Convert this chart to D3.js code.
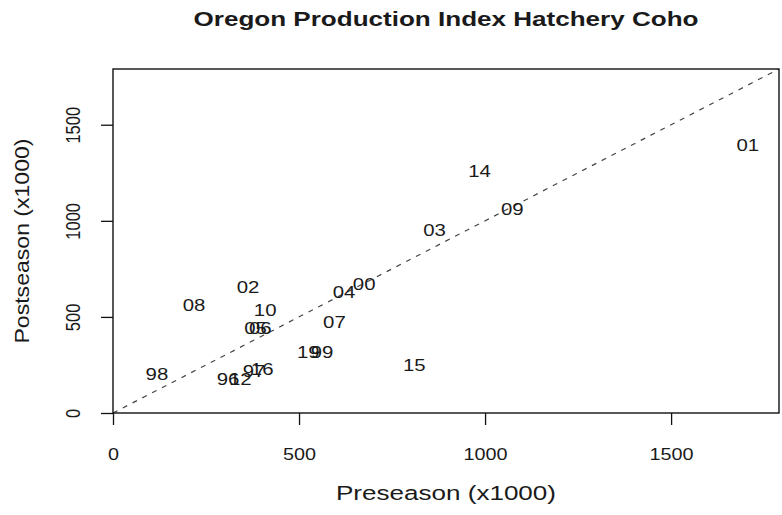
<!DOCTYPE html>
<html>
<head>
<meta charset="utf-8">
<script src="https://cdn.jsdelivr.net/npm/d3@7"></script>
<style>
  body { margin: 0; background: #fff; }
  text { font-family: "Liberation Sans", Arial, sans-serif; fill: #1a1a1a; }
</style>
</head>
<body>
<div id="chart"></div>
<script>
// return years, labelled by last two digits
var labels = ["98", "96", "12", "97", "16", "08", "02", "10", "05", "06",
              "19", "99", "07", "04", "00", "15", "03", "14", "09", "01"];
var preseason = [118, 309, 342, 379, 401, 218, 363, 409, 383, 396,
                 525, 562, 595, 621, 675, 810, 864, 985, 1073, 1706];
var postseason = [203, 177, 177, 218, 229, 561, 655, 535, 442, 442,
                  317, 317, 473, 629, 670, 249, 951, 1257, 1060, 1392];
var ticks = [0, 500, 1000, 1500];
var axisMax = 1790;

var width = 782, height = 515,
    margin = {top: 69, right: 3, bottom: 102, left: 113},
    stretch = 1.2;

var x = d3.scaleLinear()
    .domain([0, axisMax])
    .range([margin.left, width - margin.right]);

var y = d3.scaleLinear()
    .domain([0, axisMax])
    .range([height - margin.bottom, margin.top]);

var svg = d3.select("#chart").append("svg")
    .attr("width", width)
    .attr("height", height);

// 1:1 line
svg.append("line")
    .attr("x1", x(0)).attr("y1", y(0))
    .attr("x2", x(axisMax)).attr("y2", y(axisMax))
    .attr("stroke", "#444")
    .attr("stroke-width", 1.2)
    .attr("stroke-dasharray", "5,6");

// axes
var xAxis = svg.append("g")
    .attr("transform", "translate(0," + y(0) + ")")
    .call(d3.axisBottom(x).tickValues(ticks).tickSize(12).tickFormat(d3.format("d")));

var yAxis = svg.append("g")
    .attr("transform", "translate(" + x(0) + ",0)")
    .call(d3.axisLeft(y).tickValues(ticks).tickSize(12).tickFormat(d3.format("d")));

[xAxis, yAxis].forEach(function(g) {
  g.select(".domain").remove();
  g.selectAll(".tick line").attr("stroke", "#111").attr("stroke-width", 1.3);
  g.selectAll(".tick text").attr("font-size", 16.5).attr("fill", "#1a1a1a");
});

xAxis.selectAll(".tick text")
    .attr("y", 0).attr("dy", null)
    .attr("transform", "translate(0,43) scale(" + stretch + ",1)")
    .attr("dominant-baseline", "middle");

yAxis.selectAll(".tick text")
    .attr("x", 0).attr("dy", null)
    .attr("text-anchor", "middle")
    .attr("dominant-baseline", "middle")
    .attr("transform", "translate(-38,0) rotate(-90) scale(1," + stretch + ")");

// frame
svg.append("rect")
    .attr("x", x(0)).attr("y", y(axisMax))
    .attr("width", x(axisMax) - x(0))
    .attr("height", y(0) - y(axisMax))
    .attr("fill", "none")
    .attr("stroke", "#111")
    .attr("stroke-width", 1.4);

// point labels
svg.append("g").selectAll("text")
    .data(labels)
  .enter().append("text")
    .attr("transform", function(d, i) {
      return "translate(" + x(preseason[i]) + "," + y(postseason[i]) + ") scale(" + stretch + ",1)";
    })
    .attr("text-anchor", "middle")
    .attr("dominant-baseline", "central")
    .attr("font-size", 17)
    .text(function(d) { return d; });

// titles
svg.append("text")
    .attr("x", (x(0) + x(axisMax)) / 2)
    .attr("y", 26)
    .attr("text-anchor", "middle")
    .attr("font-weight", "bold")
    .attr("font-size", 19.5)
    .attr("textLength", 505)
    .attr("lengthAdjust", "spacingAndGlyphs")
    .text("Oregon Production Index Hatchery Coho");

svg.append("text")
    .attr("x", (x(0) + x(axisMax)) / 2)
    .attr("y", 500)
    .attr("text-anchor", "middle")
    .attr("font-size", 20.5)
    .attr("textLength", 220)
    .attr("lengthAdjust", "spacingAndGlyphs")
    .text("Preseason (x1000)");

svg.append("text")
    .attr("transform", "translate(29," + ((y(0) + y(axisMax)) / 2) + ") rotate(-90)")
    .attr("text-anchor", "middle")
    .attr("font-size", 20.5)
    .attr("textLength", 205)
    .attr("lengthAdjust", "spacingAndGlyphs")
    .text("Postseason (x1000)");
</script>
</body>
</html>
